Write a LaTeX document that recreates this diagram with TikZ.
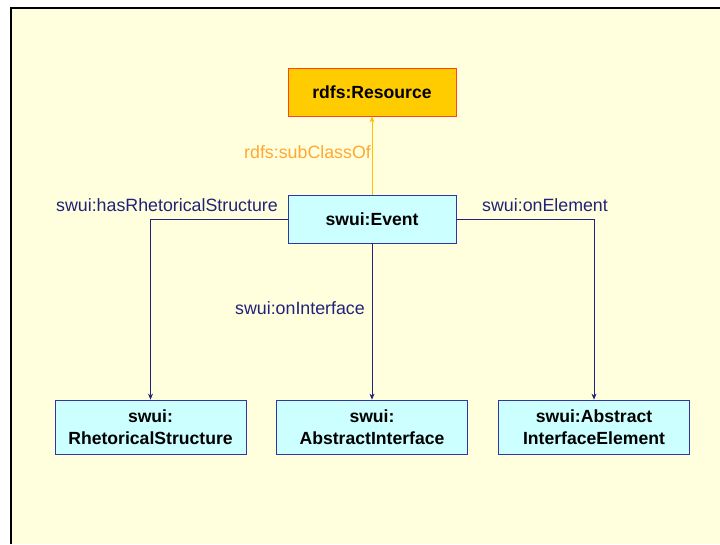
\documentclass[tikz,border=0pt]{standalone}
\usepackage{fontspec}
\setmainfont{Liberation Sans}
\usetikzlibrary{arrows.meta}

\definecolor{slidebg}{HTML}{FFFFDD}
\definecolor{resfill}{HTML}{FFCC00}
\definecolor{resline}{HTML}{FF4422}
\definecolor{classfill}{HTML}{CCFFFF}
\definecolor{classline}{HTML}{3333AA}
\definecolor{propline}{HTML}{22227A}
\definecolor{subline}{HTML}{FFC000}
\definecolor{subtext}{HTML}{FFA830}

\begin{document}
\begin{tikzpicture}[x=1pt, y=-1pt,
        classbox/.style={shape=rectangle, draw=classline, fill=classfill, line width=0.8pt, align=center, inner sep=0pt, font=\bfseries\fontsize{17.6}{22}\selectfont},
        proplabel/.style={text=propline, inner sep=1pt, font=\fontsize{17.8}{20}\selectfont},
        propwire/.style={draw=propline, line width=0.7pt, -{Stealth[length=6pt, width=5pt]}}]
        % Slide background and frame:
        \useasboundingbox (0, 0) rectangle (720, 544);
        \fill[white] (0, 0) rectangle (720, 544);
        \fill[slidebg] (11, 8) rectangle (720, 544);
        \draw[line width=2pt] (11, 544) -- (11, 8) -- (720, 8);
        % Classes:
        \node[classbox, draw=resline, fill=resfill, minimum width=168pt, minimum height=48pt] (res) at (372, 92){rdfs:Resource};
        \node[classbox, minimum width=168pt, minimum height=48pt] (event) at (372, 219){swui:Event};
        \node[classbox, minimum width=191pt, minimum height=54pt] (rhet) at (150.5, 427){swui:\\RhetoricalStructure};
        \node[classbox, minimum width=191pt, minimum height=54pt] (absint) at (372, 427){swui:\\AbstractInterface};
        \node[classbox, minimum width=191pt, minimum height=54pt] (absel) at (594, 427){swui:Abstract\\InterfaceElement};
        % Properties:
        \draw[subline, line width=0.7pt, -{Stealth[length=6pt, width=5pt]}] (event.north) -- (res.south);
        \draw[propwire] (event.west) -| (rhet.north);
        \draw[propwire] (event.south) -- (absint.north);
        \draw[propwire] (event.east) -| (absel.north);
        \node[anchor=east, text=subtext, inner sep=1pt, font=\fontsize{17.8}{20}\selectfont] (lblsub) at (372, 152){rdfs:subClassOf};
        \node[proplabel, anchor=east] (lblrhet) at (279, 205){swui:hasRhetoricalStructure};
        \node[proplabel, anchor=east] (lblint) at (366, 308){swui:onInterface};
        \node[proplabel, anchor=west] (lblel) at (481, 205){swui:onElement};
    \end{tikzpicture}
\end{document}
